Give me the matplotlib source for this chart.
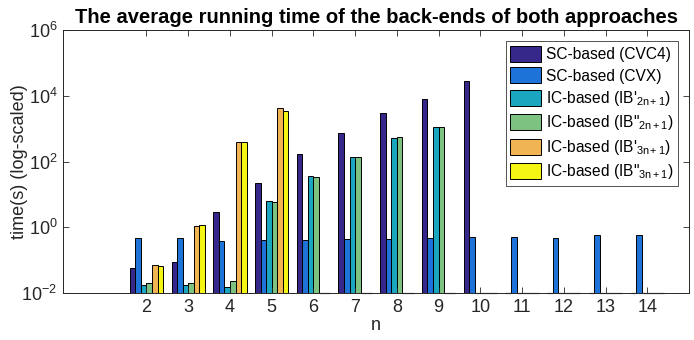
import numpy as np
import matplotlib
matplotlib.use('Agg')
import matplotlib.pyplot as plt

plt.rcParams['font.family'] = ['Liberation Sans', 'DejaVu Sans']
plt.rcParams['mathtext.fontset'] = 'custom'
plt.rcParams['mathtext.rm'] = 'Liberation Sans'
plt.rcParams['mathtext.it'] = 'Liberation Sans'

# ── data (0 = no measurement) ────────────────────────────────────────────────
n_vals = [2, 3, 4, 5, 6, 7, 8, 9, 10, 11, 12, 13, 14]
sc_cvc4 = [0.056, 0.090, 2.9, 22.7, 169, 753, 3055, 8130, 28100, 0, 0, 0, 0]
sc_cvx = [0.46, 0.46, 0.38, 0.40, 0.41, 0.44, 0.43, 0.46, 0.49, 0.49, 0.48, 0.59, 0.58]
ib1_2n = [0.0167, 0.0167, 0.0139, 6.14, 35.4, 134, 519, 1097, 0, 0, 0, 0, 0]
ib2_2n = [0.0197, 0.0192, 0.023, 5.73, 34.6, 134, 543, 1120, 0, 0, 0, 0, 0]
ib1_3n = [0.071, 1.07, 383, 4140, 0, 0, 0, 0, 0, 0, 0, 0, 0]
ib2_3n = [0.065, 1.14, 407, 3436, 0, 0, 0, 0, 0, 0, 0, 0, 0]

series = [sc_cvc4, sc_cvx, ib1_2n, ib2_2n, ib1_3n, ib2_3n]
labels = ["SC-based (CVC4)", "SC-based (CVX)",
          "IC-based (IB'$_{2n+1}$)", 'IC-based (IB"$_{2n+1}$)',
          "IC-based (IB'$_{3n+1}$)", 'IC-based (IB"$_{3n+1}$)']
colors = ['#35288A', '#1E73D9', '#1AA6BE', '#7DC280', '#F0B552', '#F5F514']

fig = plt.figure(figsize=(6.94, 3.4), dpi=100)
ax = fig.add_axes([0.0908, 0.138, 0.902, 0.7735])

x = np.array(n_vals, dtype=float)
w = 0.8 / len(series)
for i, (vals, lab, col) in enumerate(zip(series, labels, colors)):
    vals = np.array(vals, dtype=float)
    pos = x + (i - (len(series) - 1) / 2) * w
    m = vals > 0
    ax.bar(pos[m], vals[m], w, color=col, edgecolor='black', linewidth=0.7,
           label=lab, bottom=1e-3)
    # zero-valued bars: faint outline on the baseline (MATLAB style)
    for p in pos[~m]:
        ax.plot([p - w / 2, p + w / 2], [1e-2, 1e-2], color='#555555',
                lw=0.9, solid_capstyle='butt', clip_on=False, zorder=1)

ax.set_yscale('log')
ax.set_ylim(1e-2, 1e6)
ax.set_xlim(0, 15)
ax.set_xticks(n_vals)
ax.set_yticks([1e-2, 1, 1e2, 1e4, 1e6])
ax.minorticks_off()
ax.tick_params(direction='in', top=True, right=True, length=4, width=0.6,
               labelsize=13, colors='#262626', pad=4)
for s in ax.spines.values():
    s.set_linewidth(0.7)
    s.set_color('#262626')

ax.set_xlabel('n', fontsize=13, color='#262626', labelpad=1)
ax.set_ylabel('time(s) (log-scaled)', fontsize=13, color='#262626')
ax.yaxis.set_label_coords(-0.056, 0.5)
ax.set_title('The average running time of the back-ends of both approaches',
             fontsize=14.5, fontweight='bold', pad=5)

leg = ax.legend(loc='upper right', fontsize=11.2, frameon=True, fancybox=False,
                edgecolor='#262626', borderpad=0.3, labelspacing=0.35,
                handlelength=2.0, handleheight=1.2, handletextpad=0.3,
                borderaxespad=0.7)
leg.get_frame().set_linewidth(0.7)

fig.savefig('out.png', dpi=100)
